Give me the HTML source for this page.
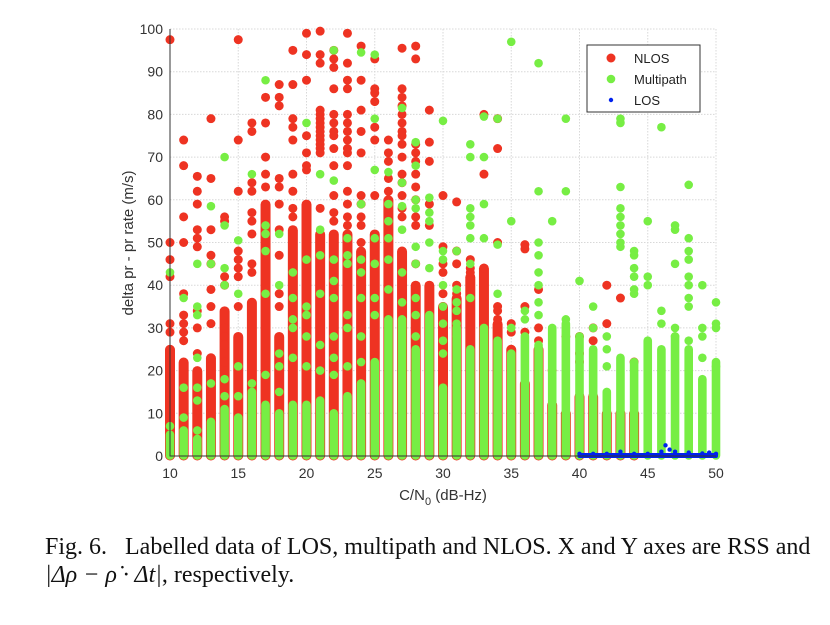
<!DOCTYPE html>
<html><head><meta charset="utf-8">
<style>
html,body{margin:0;padding:0;background:#fff;width:830px;height:625px;overflow:hidden}
svg{display:block}
.cap{position:absolute;left:45px;font-family:"Liberation Serif",serif;font-size:24px;color:#111;white-space:pre}
</style></head><body>
<div style="position:relative;width:830px;height:625px">
<svg id="chart" width="830" height="625"></svg>
<div class="cap" style="top:534px">Fig. 6.   Labelled data of LOS, multipath and NLOS. X and Y axes are RSS and</div>
<div class="cap" style="top:562px"><i>|Δρ − ρ̇ · Δt|</i>, respectively.</div>
</div>
<script>
const xCats = [10,11,12,13,14,15,16,17,18,19,20,21,22,23,24,25,26,27,28,29,30,31,32,33,34,35,36,37,38,39,40,41,42,43,44,45,46,47,48,49,50];
const redTop = [25,22,20,23,34,28,36,59,28,53,59,52,52,52,48,52,60,48,40,40,35,37,42,44,31,25,17,25,12,10,14,14,10,10,10,0,0,0,0,0,0];
const greenTop = [5,6,4,8,11,9,15,12,10,12,12,13,10,14,17,22,32,32,25,33,16,30,25,30,27,24,28,26,30,31,28,25,15,23,22,27,25,28,25,18,22];
const redPts = [
[97.5,50,46,42,31,29],[74,68,56,50,38,33,31,29,27],[65.5,62,59,53,51,49,34,30,24],[79,65,53,47,45,39,35,31,21],
[56,55,42,40,30,28,26,22,18],[97.5,74,62,48,46,44,42,35],[78,76,64,62,57,55,52,45,43],[84,78,70,66,63],
[87,84,82,65,63,59,53,47,38,35],[95,87,79,77,74,66,62,58,56],[99,94,88,75,71,68,67],
[99.5,94,92,81,80,79,78,77,76,75,74,73,72,71,58],[95,93,91,86,80,78,76,75,72,68,61,57,55],
[99,92,88,86,80,78,76,74,72,71,68,62,59,56,54],[96,88,81,76,71,61,59,56,54,50],[93,86,85,83,77,74,61],
[74,71,69,65,62,56,54,45],[95.5,86,84,82,80,78,76,75,73,70,66,64,61,58,56],[96,93,73,71,69,66,63,60,56,54,45],
[81,73.5,69,59,54],[61,49,45,43,38,35],[59.5,48,45,40,38],[46,44,43,41],[80,66,44],[79,72,50,35,34,32,30],
[31,29],[49.5,48.5,35,29],[39,30,27],[20],[28],[28,24,22,14],[30,27,14],[40,31],[37],[22],[],[],[],[],[],[]];
const greenPts = [
[43,7],[37,16,9],[45,35,33,23,16,13,6],[58.5,45,17],[70,54,44,40,18,14],[50.5,38,21,14],[66,17],[88,54,52,48,38,19],
[52,40,24,21,15],[43,37,32,30,23],[78,46,35,33,28,21],[66,53,47,38,26,20],[95,64.5,46,41,37,28,23,19],
[51,47,45,33,30,21],[94.5,59,46,43,37,28,22],[94,79,67,51,45,37,33],[66.5,59,55,51,46,39],[81.5,64,58.5,53,43,36],
[73.5,68,60,58,49,45,37,33,28],[60.5,57,55,50,44],[78.5,48,46,40,35,31,27,24],[48,39,36,34,31,28],
[73,70,58,56,54,51,45,37],[79.5,70,59,51],[79,49.5,38],[97,55,30],[34,32],[92,62,50,47,43,40,36,33],[55],
[79,62,32],[41],[35,30],[28,25,21],[79,78,63,58,56,54,52,50,49],[48,47,44,42,39,38],[55,42,40],[77,34,31],
[54,53,45,30,28],[63.5,51,48,46,42,40,37,35,27],[40,30,28,23],[36,31,30,21]];
const losX = [40,41,42,43,44,45,46,46.3,46.6,47,48,49,49.5,50];
const losY = [0.5,0.5,0.5,1,0.5,0.5,1,2.5,1.5,1,0.8,0.6,0.8,0.5];
const xTicks = [10,15,20,25,30,35,40,45,50];
const yTicks = [0,10,20,30,40,50,60,70,80,90,100];

const NS="http://www.w3.org/2000/svg";
const svg=document.getElementById('chart');
const L=170,R=716,T=29,B=456;
const xs=v=>L+(v-10)/40*(R-L);
const ys=v=>B-v/100*(B-T);
function mk(tag,attrs,parent){const e=document.createElementNS(NS,tag);for(const k in attrs)e.setAttribute(k,attrs[k]);(parent||svg).appendChild(e);return e;}
const grid=mk('g',{});


xTicks.forEach(t=>{const l=mk('line',{x1:xs(t),x2:xs(t),y1:T,y2:B,stroke:'#d8d8d8','stroke-dasharray':'1.5,1.5'},grid);

});
yTicks.forEach(t=>{const l=mk('line',{x1:L,x2:R,y1:ys(t),y2:ys(t),stroke:'#d8d8d8','stroke-dasharray':'1.5,1.5'},grid);

});
const gR=mk('g',{fill:'#ee3322'});


const gG=mk('g',{fill:'#77ee44'});


const gB=mk('g',{fill:'#0022ee'});


xCats.forEach((c,i)=>{
  const x=xs(c);
  if(redTop[i]>0){const r=mk('rect',{x:x-5,y:ys(redTop[i])-4.5,width:10,height:B-ys(redTop[i])+9,rx:5},gR);
  
  }
  redPts[i].forEach(v=>{const p=mk('circle',{cx:x,cy:ys(v),r:4.5},gR);
  
  });
  const g=mk('rect',{x:x-4.3,y:ys(greenTop[i])-4.3,width:8.6,height:B-ys(greenTop[i])+8,rx:4.3},gG);
  
  
  greenPts[i].forEach(v=>{const p=mk('circle',{cx:x,cy:ys(v),r:4.3},gG);
  
  });
});
const losBand=mk('rect',{x:xs(40)-2,y:B-3,width:xs(50)-xs(40)+4,height:5,rx:2},gB);


losX.forEach((v,i)=>{const p=mk('circle',{cx:xs(v),cy:ys(losY[i]),r:2.2},gB);

});
const ax=mk('path',{d:`M${L},${T}V${B}H${R}`,stroke:'#333',fill:'none','stroke-width':1});


const tf='font-family:"Liberation Sans",sans-serif;font-size:14px;fill:#333';
xTicks.forEach(t=>{const e=mk('text',{x:xs(t),y:B+22,'text-anchor':'middle',style:tf});e.textContent=t;

});
yTicks.forEach(t=>{const e=mk('text',{x:L-7,y:ys(t)+5,'text-anchor':'end',style:tf});e.textContent=t;

});
const xt=mk('text',{x:443,y:500,'text-anchor':'middle',style:'font-family:"Liberation Sans",sans-serif;font-size:15px;fill:#333'});
xt.innerHTML='C/N<tspan dy="5" font-size="11">0</tspan><tspan dy="-5"> (dB-Hz)</tspan>';


const yt=mk('text',{x:0,y:0,'text-anchor':'middle',transform:'translate(133,243) rotate(-90)',style:'font-family:"Liberation Sans",sans-serif;font-size:15px;fill:#333'});
yt.textContent='delta pr - pr rate (m/s)';


const lg=mk('g',{});


mk('rect',{x:587,y:45,width:113,height:67,fill:'#fff',stroke:'#333'},lg);
const lt='font-family:"Liberation Sans",sans-serif;font-size:13px;fill:#222';
[['NLOS','#ee3322',4.5,58],['Multipath','#77ee44',4.3,79],['LOS','#0022ee',2.2,100]].forEach(e=>{
  const c=mk('circle',{cx:611,cy:e[3],r:e[2],fill:e[1]},lg);
  
  
  const t=mk('text',{x:634,y:e[3]+5,style:lt},lg);t.textContent=e[0];
  
  
});
</script>
</body></html>
